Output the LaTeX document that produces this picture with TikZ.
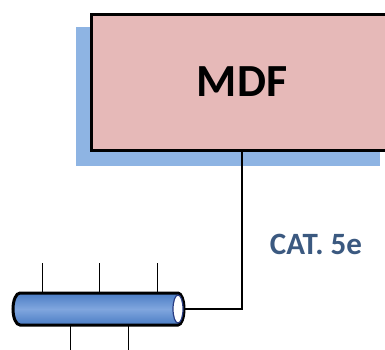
\documentclass[tikz,border=0pt]{standalone}
\usepackage{fontspec}
\setmainfont{Carlito}
\definecolor{boxpink}{RGB}{230,185,184}
\definecolor{shadowblue}{RGB}{142,180,227}
\definecolor{labelblue}{RGB}{59,89,128}
\definecolor{cyldark}{RGB}{74,124,196}
\definecolor{cyllight}{RGB}{128,166,222}
\definecolor{capblue}{RGB}{40,60,130}
\tikzset{
  mdfbox/.style={draw=black, line width=3pt, fill=boxpink, minimum width=302pt, minimum height=136pt, inner sep=0pt, font=\bfseries\fontsize{46}{46}\selectfont},
  cablelabel/.style={text=labelblue, inner sep=0pt, font=\bfseries\fontsize{31}{31}\selectfont},
  conn/.style={draw=black, line width=2pt},
  tick/.style={draw=black, line width=1pt},
  cylbody/.style={draw=black, line width=3pt, top color=cyldark, bottom color=cyldark, middle color=cyllight},
  cylcap/.style={draw=capblue, line width=1.2pt, fill=white}
}
\begin{document}
\begin{tikzpicture}[x=1pt,y=-1pt]
\useasboundingbox (0,0) rectangle (385,349);
\clip (0,0) rectangle (385,349);
% shadow
\fill[shadowblue] (76,27) rectangle (380,166);
% MDF box
\node[mdfbox] (mdf) at (242,82) {MDF};
% label
\node[cablelabel] (cat) at (316,244) {CAT. 5e};
% ticks
\draw[tick] (42,263) -- (42,293);
\draw[tick] (99,263) -- (99,293);
\draw[tick] (157,263) -- (157,293);
\draw[tick] (70,325) -- (70,352);
\draw[tick] (128,325) -- (128,352);
% cylinder
\path[cylbody] (178,293) -- (20,293) arc[start angle=-90, end angle=-270, x radius=7, y radius=16] -- (178,325) arc[start angle=90, end angle=-90, x radius=6, y radius=16] -- cycle;
\draw[cylcap] (178,309) ellipse[x radius=5, y radius=14];
\coordinate (cylend) at (185,309);
% connector
\draw[conn] (mdf.south) |- (cylend);
\end{tikzpicture}
\end{document}
